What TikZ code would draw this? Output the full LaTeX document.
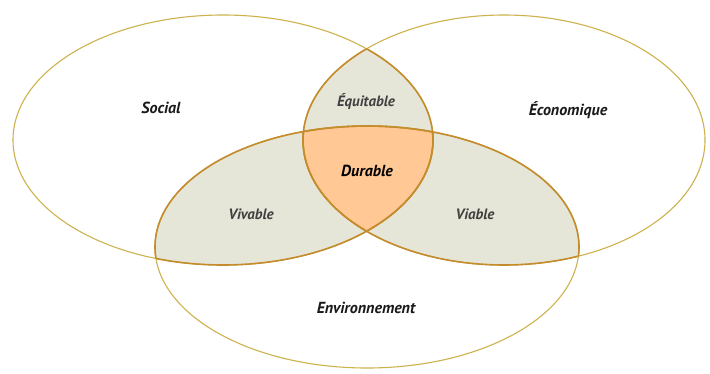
\documentclass[tikz,border=0pt]{standalone}
\usepackage{fontspec}
\setmainfont{PT Sans}
\definecolor{pairfill}{HTML}{E6E6D8}
\definecolor{corefill}{HTML}{FFC894}
\definecolor{outerline}{HTML}{CDB24E}
\definecolor{innerline}{HTML}{C48C2C}
\definecolor{labeldark}{HTML}{1A1A1A}
\definecolor{labelgrey}{HTML}{404040}
\tikzset{
  outerring/.style={draw=outerline, line width=1.1pt},
  innerring/.style={draw=innerline, line width=1.6pt},
  biglabel/.style={font=\fontsize{16}{18}\selectfont\bfseries\itshape, text=labeldark},
  smalllabel/.style={font=\fontsize{15}{17}\selectfont\bfseries\itshape, text=labelgrey},
  corelabel/.style={font=\fontsize{16}{18}\selectfont\bfseries\itshape, text=black},
}
\def\soc{(223,140) ellipse [x radius=210, y radius=125]}
\def\eco{(504,140) ellipse [x radius=201, y radius=125]}
\def\env{(367,247) ellipse [x radius=212, y radius=121]}
\begin{document}
\begin{tikzpicture}[x=1pt, y=-1pt]
\useasboundingbox (0,0) rectangle (710,373);
\fill[white] (0,0) rectangle (710,373);
% pairwise regions
\begin{scope}\clip \soc; \fill[pairfill] \eco; \fill[pairfill] \env; \end{scope}
\begin{scope}\clip \eco; \fill[pairfill] \env; \end{scope}
% core
\begin{scope}\clip \soc; \clip \eco; \fill[corefill] \env; \end{scope}
% outer outlines
\draw[outerring] \soc;
\draw[outerring] \eco;
\draw[outerring] \env;
% inner arcs, darker
\begin{scope}\clip \eco; \draw[innerring] \soc; \draw[innerring] \env; \end{scope}
\begin{scope}\clip \soc; \draw[innerring] \eco; \draw[innerring] \env; \end{scope}
\begin{scope}\clip \env; \draw[innerring] \soc; \draw[innerring] \eco; \end{scope}
% labels
\node[biglabel] (social) at (161,108) {Social};
\node[biglabel] (econ) at (568,110) {Économique};
\node[biglabel] (envir) at (366,308) {Environnement};
\node[smalllabel] (equit) at (366,101) {Équitable};
\node[smalllabel] (vivab) at (251,214) {Vivable};
\node[smalllabel] (viabl) at (475,214) {Viable};
\node[corelabel] (durab) at (367,171) {Durable};
\end{tikzpicture}
\end{document}
